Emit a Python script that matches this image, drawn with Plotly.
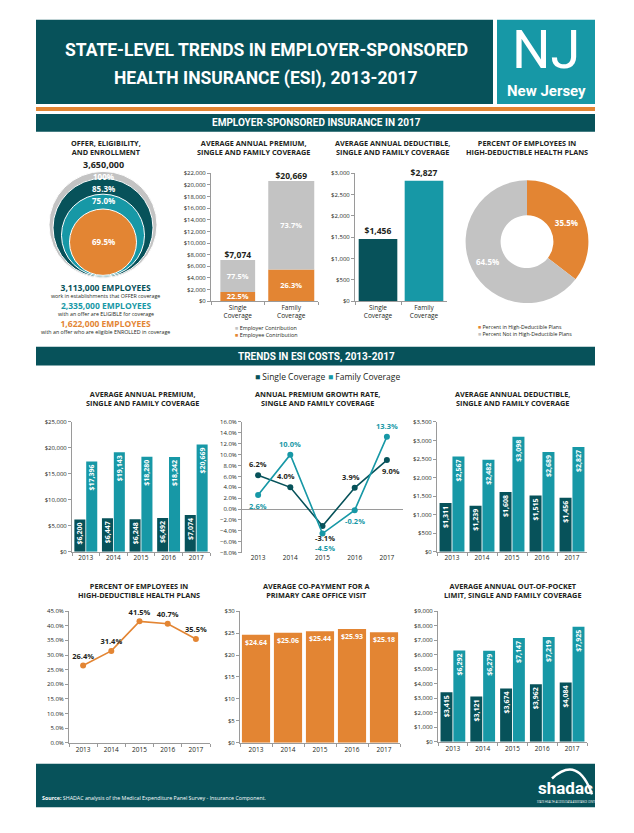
import plotly.graph_objects as go

W, H = 634, 833


def fx(p):
    return p / W


def fy(p):
    return 1 - p / H


DARK = "#07525a"
TEAL = "#1798a6"
ORANGE = "#e38533"
GRAY = "#c3c3c3"
TXT = "#231f20"
AXC = "#9a9a9a"
FONT = "Open Sans, Lato, sans-serif"
COND = "Roboto, Liberation Sans Narrow, sans-serif"

# ---------------- data ----------------
years = ["2013", "2014", "2015", "2016", "2017"]

offer_total = "3,650,000"
offer_pct_labels = ["100%", "85.3%", "75.0%", "69.5%"]
offer_counts = ["3,113,000 EMPLOYEES", "2,335,000 EMPLOYEES", "1,622,000 EMPLOYEES"]
offer_desc = ["work in establishments that OFFER coverage",
              "with an offer are ELIGIBLE for coverage",
              "with an offer who are eligible ENROLLED in coverage"]

cov_cats = ["Single<br>Coverage", "Family<br>Coverage"]
prem2017_total = [7074, 20669]
prem2017_employer_pct = [77.5, 73.7]
prem2017_employee_pct = [22.5, 26.3]
ded2017 = [1456, 2827]

hdhp2017_labels = ["Percent in High-Deductible Plans", "Percent Not in High-Deductible Plans"]
hdhp2017_values = [35.5, 64.5]

premium_single = [6200, 6447, 6248, 6492, 7074]
premium_family = [17396, 19143, 18280, 18242, 20669]
growth_single = [6.2, 4.0, -3.1, 3.9, 9.0]
growth_family = [2.6, 10.0, -4.5, -0.2, 13.3]
ded_single = [1311, 1239, 1608, 1515, 1456]
ded_family = [2567, 2482, 3098, 2689, 2827]
hdhp_pct = [26.4, 31.4, 41.5, 40.7, 35.5]
copay = [24.64, 25.06, 25.44, 25.93, 25.18]
oop_single = [3415, 3121, 3674, 3962, 4084]
oop_family = [6292, 6279, 7147, 7219, 7925]

# derived stacked values
prem2017_employee = [t * p / 100 for t, p in zip(prem2017_total, prem2017_employee_pct)]
prem2017_employer = [t * p / 100 for t, p in zip(prem2017_total, prem2017_employer_pct)]

fig = go.Figure()
layout = {}


def add_axes(n, x0, x1, y0, y1, yr, dtick, fmt, ncat, pre="", suf="", xline=True, zeroline=False):
    xk = "xaxis" if n == 1 else f"xaxis{n}"
    yk = "yaxis" if n == 1 else f"yaxis{n}"
    layout[xk] = dict(domain=[fx(x0), fx(x1)], anchor=f"y{n}", type="category",
                      range=[-0.5, ncat - 0.5], autorange=False,
                      showline=xline, linecolor=AXC, linewidth=1,
                      ticks="outside" if xline else "", tickson="boundaries",
                      ticklen=3, tickcolor=AXC, showgrid=False, zeroline=False,
                      tickfont=dict(size=6.5, color=TXT, family=FONT), fixedrange=True)
    layout[yk] = dict(domain=[fy(y1), fy(y0)], anchor=f"x{n}", range=yr, dtick=dtick,
                      tick0=yr[0], tickformat=fmt, tickprefix=pre, ticksuffix=suf,
                      showline=True, linecolor=AXC, linewidth=1, ticks="outside",
                      ticklen=3, tickcolor=AXC, showgrid=False,
                      zeroline=zeroline, zerolinecolor=AXC, zerolinewidth=1,
                      tickfont=dict(size=6, color=TXT, family=FONT), fixedrange=True)


# axes
add_axes(1, 211, 318, 171, 300, [0, 22000], 2000, ",", 2, pre="$")
add_axes(2, 355, 447, 171, 300, [0, 3000], 500, ",", 2, pre="$")
add_axes(3, 72, 210, 422, 553, [0, 25000], 5000, ",", 5, pre="$")
add_axes(4, 242, 403, 422, 554, [-8, 16], 2, ".1f", 5, suf="%", xline=False, zeroline=True)
add_axes(5, 437, 587, 422, 553, [0, 3500], 500, ",", 5, pre="$")
add_axes(6, 69, 210, 613, 746, [0, 45], 5, ".1f", 5, suf="%")
add_axes(7, 240, 400, 613, 746, [0, 30], 5, ",", 5, pre="$")
add_axes(8, 438, 587, 613, 745, [0, 9000], 1000, ",", 5, pre="$")

bar_txt = dict(color="white", size=7, family=FONT)

# 1: stacked premium 2017
fig.add_trace(go.Bar(x=cov_cats, y=prem2017_employee, width=[0.65, 0.86],
                     marker=dict(color=ORANGE, line=dict(width=0)),
                     text=[f"<b>{p:.1f}%</b>" for p in prem2017_employee_pct],
                     textposition="inside", insidetextanchor="middle", constraintext="none",
                     textangle=0,
                     textfont=dict(color="white", size=7.5, family=FONT),
                     xaxis="x", yaxis="y", showlegend=False))
fig.add_trace(go.Bar(x=cov_cats, y=prem2017_employer, base=prem2017_employee, width=[0.65, 0.86],
                     marker=dict(color=GRAY, line=dict(width=0)),
                     text=[f"<b>{p:.1f}%</b>" for p in prem2017_employer_pct],
                     textposition="inside", insidetextanchor="middle", constraintext="none",
                     textangle=0,
                     textfont=dict(color="white", size=7.5, family=FONT),
                     xaxis="x", yaxis="y", showlegend=False))
fig.add_trace(go.Scatter(x=cov_cats, y=prem2017_total, mode="text",
                         text=[f"<b>${v:,}</b>" for v in prem2017_total],
                         textposition="top center", cliponaxis=False,
                         textfont=dict(color=TXT, size=8.5, family=FONT),
                         xaxis="x", yaxis="y", showlegend=False))

# 2: deductible 2017
fig.add_trace(go.Bar(x=cov_cats, y=ded2017, width=0.84,
                     marker=dict(color=[DARK, TEAL], line=dict(width=0)),
                     text=[f"<b>${v:,}</b>" for v in ded2017], textposition="outside",
                     cliponaxis=False, textfont=dict(color=TXT, size=8.5, family=FONT),
                     xaxis="x2", yaxis="y2", showlegend=False))


def grouped(n, s, f, wid=0.4):
    ax = "x" if n == 1 else f"x{n}"
    ay = "y" if n == 1 else f"y{n}"
    for vals, col, off in ((s, DARK, -wid - 0.015), (f, TEAL, 0.015)):
        fig.add_trace(go.Bar(x=years, y=vals, width=wid, offset=off,
                             marker=dict(color=col, line=dict(width=0)),
                             text=[f"<b>${v:,}</b>" for v in vals], textposition="inside",
                             insidetextanchor="end", textangle=-90, constraintext="none",
                             textfont=bar_txt, xaxis=ax, yaxis=ay, showlegend=False))


grouped(3, premium_single, premium_family)
grouped(5, ded_single, ded_family)
grouped(8, oop_single, oop_family)

# 4: growth lines
fig.add_trace(go.Scatter(x=years, y=growth_single, mode="lines+markers",
                         line=dict(color=DARK, width=1.6), marker=dict(size=6, color=DARK),
                         xaxis="x4", yaxis="y4", showlegend=False, cliponaxis=False))
fig.add_trace(go.Scatter(x=years, y=growth_family, mode="lines+markers",
                         line=dict(color=TEAL, width=1.6), marker=dict(size=6, color=TEAL),
                         xaxis="x4", yaxis="y4", showlegend=False, cliponaxis=False))

annotations = []
single_shift = [(0, 11), (-4, 11), (2, -12), (-4, 11), (4, -11)]
family_shift = [(0, -11), (0, 11), (2, -14), (0, -11), (0, 11)]
for i, (v, (dx, dy)) in enumerate(zip(growth_single, single_shift)):
    annotations.append(dict(x=i, y=v, xref="x4", yref="y4", text=f"<b>{v:.1f}%</b>",
                            showarrow=False, xshift=dx, yshift=dy,
                            font=dict(color=TXT, size=7.5, family=FONT)))
for i, (v, (dx, dy)) in enumerate(zip(growth_family, family_shift)):
    annotations.append(dict(x=i, y=v, xref="x4", yref="y4", text=f"<b>{v:.1f}%</b>",
                            showarrow=False, xshift=dx, yshift=dy,
                            font=dict(color=TEAL, size=7.5, family=FONT)))

# 6: hdhp line
fig.add_trace(go.Scatter(x=years, y=hdhp_pct, mode="lines+markers+text",
                         line=dict(color=ORANGE, width=1.6), marker=dict(size=6, color=ORANGE),
                         text=[f"<b>{v:.1f}%</b>" for v in hdhp_pct], textposition="top center",
                         textfont=dict(color=TXT, size=7.5, family=FONT),
                         xaxis="x6", yaxis="y6", showlegend=False, cliponaxis=False))

# 7: copay bars
fig.add_trace(go.Bar(x=years, y=copay, width=0.88,
                     marker=dict(color=ORANGE, line=dict(width=0)),
                     text=[f"<b>${v:.2f}</b>" for v in copay], textposition="inside",
                     insidetextanchor="end", constraintext="none", textangle=0,
                     textfont=dict(color="white", size=7, family=FONT),
                     xaxis="x7", yaxis="y7", showlegend=False))

# donut
fig.add_trace(go.Pie(labels=hdhp2017_labels, values=hdhp2017_values, hole=0.43,
                     sort=False, direction="clockwise", rotation=0,
                     marker=dict(colors=[ORANGE, GRAY], line=dict(color="white", width=0)),
                     texttemplate="<b>%{value:.1f}%</b>", textposition="inside",
                     insidetextorientation="horizontal",
                     textfont=dict(color="white", size=8, family=FONT),
                     domain=dict(x=[fx(465), fx(589)], y=[fy(302), fy(178)]),
                     showlegend=False, hoverinfo="skip"))

# ---------------- shapes ----------------
shapes = []


def rect(x0, y0, x1, y1, col):
    shapes.append(dict(type="rect", xref="paper", yref="paper", x0=fx(x0), x1=fx(x1),
                       y0=fy(y1), y1=fy(y0), fillcolor=col, line=dict(width=0), layer="below"))


rect(36, 16, 493, 101, DARK)
rect(497, 16, 595, 101, TEAL)
rect(36, 104, 595, 108, ORANGE)
rect(36, 111, 595, 129, DARK)
rect(36, 346, 595, 365, DARK)
rect(36, 767, 595, 811, DARK)

# nested circles (cx, cy, r, color)
circles = [(103, 223, 54, GRAY), (103, 226, 50, DARK), (103, 233.5, 41.5, TEAL), (103, 240.5, 33.5, ORANGE)]
for cx, cy, r, col in circles:
    shapes.append(dict(type="circle", xref="paper", yref="paper", x0=fx(cx - r), x1=fx(cx + r),
                       y0=fy(cy + r), y1=fy(cy - r), fillcolor=col,
                       line=dict(color="white", width=1)))

# shadac logo arc
shapes.append(dict(type="path", xref="paper", yref="paper",
                   path=f"M {fx(552)} {fy(782)} Q {fx(578)} {fy(758)} {fx(592)} {fy(798)}",
                   line=dict(color="white", width=2.5)))


def note(x, y, text, size, color=TXT, family=FONT, xanchor="center", align="center"):
    annotations.append(dict(x=fx(x), y=fy(y), xref="paper", yref="paper", text=text,
                            showarrow=False, xanchor=xanchor, yanchor="middle", align=align,
                            font=dict(size=size, color=color, family=family)))


# header
note(266, 46, "<b>STATE-LEVEL TRENDS IN EMPLOYER-SPONSORED</b>", 17.5, "white", COND)
note(266, 75, "<b>HEALTH INSURANCE (ESI), 2013-2017</b>", 17.5, "white", COND)
note(546, 46, "NJ", 54, "white", COND)
note(546, 88, "<b>New Jersey</b>", 15, "white", COND)

note(316, 120, "<b>EMPLOYER-SPONSORED INSURANCE IN 2017</b>", 10, "white", COND)
note(316, 356, "<b>TRENDS IN ESI COSTS, 2013-2017</b>", 10, "white", COND)

# chart titles
for x, y, t in [(106, 145, "OFFER, ELIGIBILITY,<br>AND ENROLLMENT"),
                (253, 145, "AVERAGE ANNUAL PREMIUM,<br>SINGLE AND FAMILY COVERAGE"),
                (392, 145, "AVERAGE ANNUAL DEDUCTIBLE,<br>SINGLE AND FAMILY COVERAGE"),
                (527, 145, "PERCENT OF EMPLOYEES IN<br>HIGH-DEDUCTIBLE HEALTH PLANS"),
                (142, 398, "AVERAGE ANNUAL PREMIUM,<br>SINGLE AND FAMILY COVERAGE"),
                (317, 398, "ANNUAL PREMIUM GROWTH RATE,<br>SINGLE AND FAMILY COVERAGE"),
                (512, 398, "AVERAGE ANNUAL DEDUCTIBLE,<br>SINGLE AND FAMILY COVERAGE"),
                (139, 592, "PERCENT OF EMPLOYEES IN<br>HIGH-DEDUCTIBLE HEALTH PLANS"),
                (317, 592, "AVERAGE CO-PAYMENT FOR A<br>PRIMARY CARE OFFICE VISIT"),
                (512, 592, "AVERAGE ANNUAL OUT-OF-POCKET<br>LIMIT, SINGLE AND FAMILY COVERAGE")]:
    note(x, y, f"<b>{t}</b>", 7.3)

# offer block
note(103, 162, f"<b>{offer_total}</b>", 9)
for (cx, cy, r, col), lab, ty in zip(circles, offer_pct_labels, [174, 186, 198, 240]):
    note(cx, ty, f"<b>{lab}</b>", 8, "white")
for lab, desc, col, ty in zip(offer_counts, offer_desc, [DARK, TEAL, ORANGE], [286, 304.5, 323]):
    note(106, ty + 3.5,
         f"<span style='font-size:8.5px;color:{col}'><b>{lab}</b></span><br>{desc}",
         5.3, TXT)

# mini legends (two lines each)
note(233, 330.5, f"<span style='color:{GRAY}'>■</span> Employer Contribution<br>"
                 f"<span style='color:{ORANGE}'>■</span> Employee Contribution",
     5.4, xanchor="left", align="left")
note(476, 329.5, f"<span style='color:{ORANGE}'>■</span> Percent in High-Deductible Plans<br>"
                 f"<span style='color:{GRAY}'>■</span> Percent Not in High-Deductible Plans",
     5.2, xanchor="left", align="left")

note(253, 376, f"<span style='color:{DARK}'>■</span> Single Coverage", 8.5, xanchor="left")
note(326, 376, f"<span style='color:{TEAL}'>■</span> Family Coverage", 8.5, xanchor="left")

# footer
note(40, 802, "<b>Source:</b> SHADAC analysis of the Medical Expenditure Panel Survey - Insurance Component.",
     5.3, "white", xanchor="left")
note(565, 792, "<b>shadac</b>", 17, "white", COND)
note(567, 806, "STATE HEALTH ACCESS DATA ASSISTANCE CENTER", 2.6, "white")

fig.update_layout(**layout)
fig.update_layout(width=W, height=H, margin=dict(l=0, r=0, t=0, b=0),
                  paper_bgcolor="white", plot_bgcolor="white", barmode="overlay",
                  shapes=shapes, annotations=annotations, showlegend=False,
                  font=dict(family=FONT, color=TXT))

fig.write_html("out.html", config={"displayModeBar": False},
               post_script="document.body.style.margin='0';document.body.style.overflow='hidden';")
